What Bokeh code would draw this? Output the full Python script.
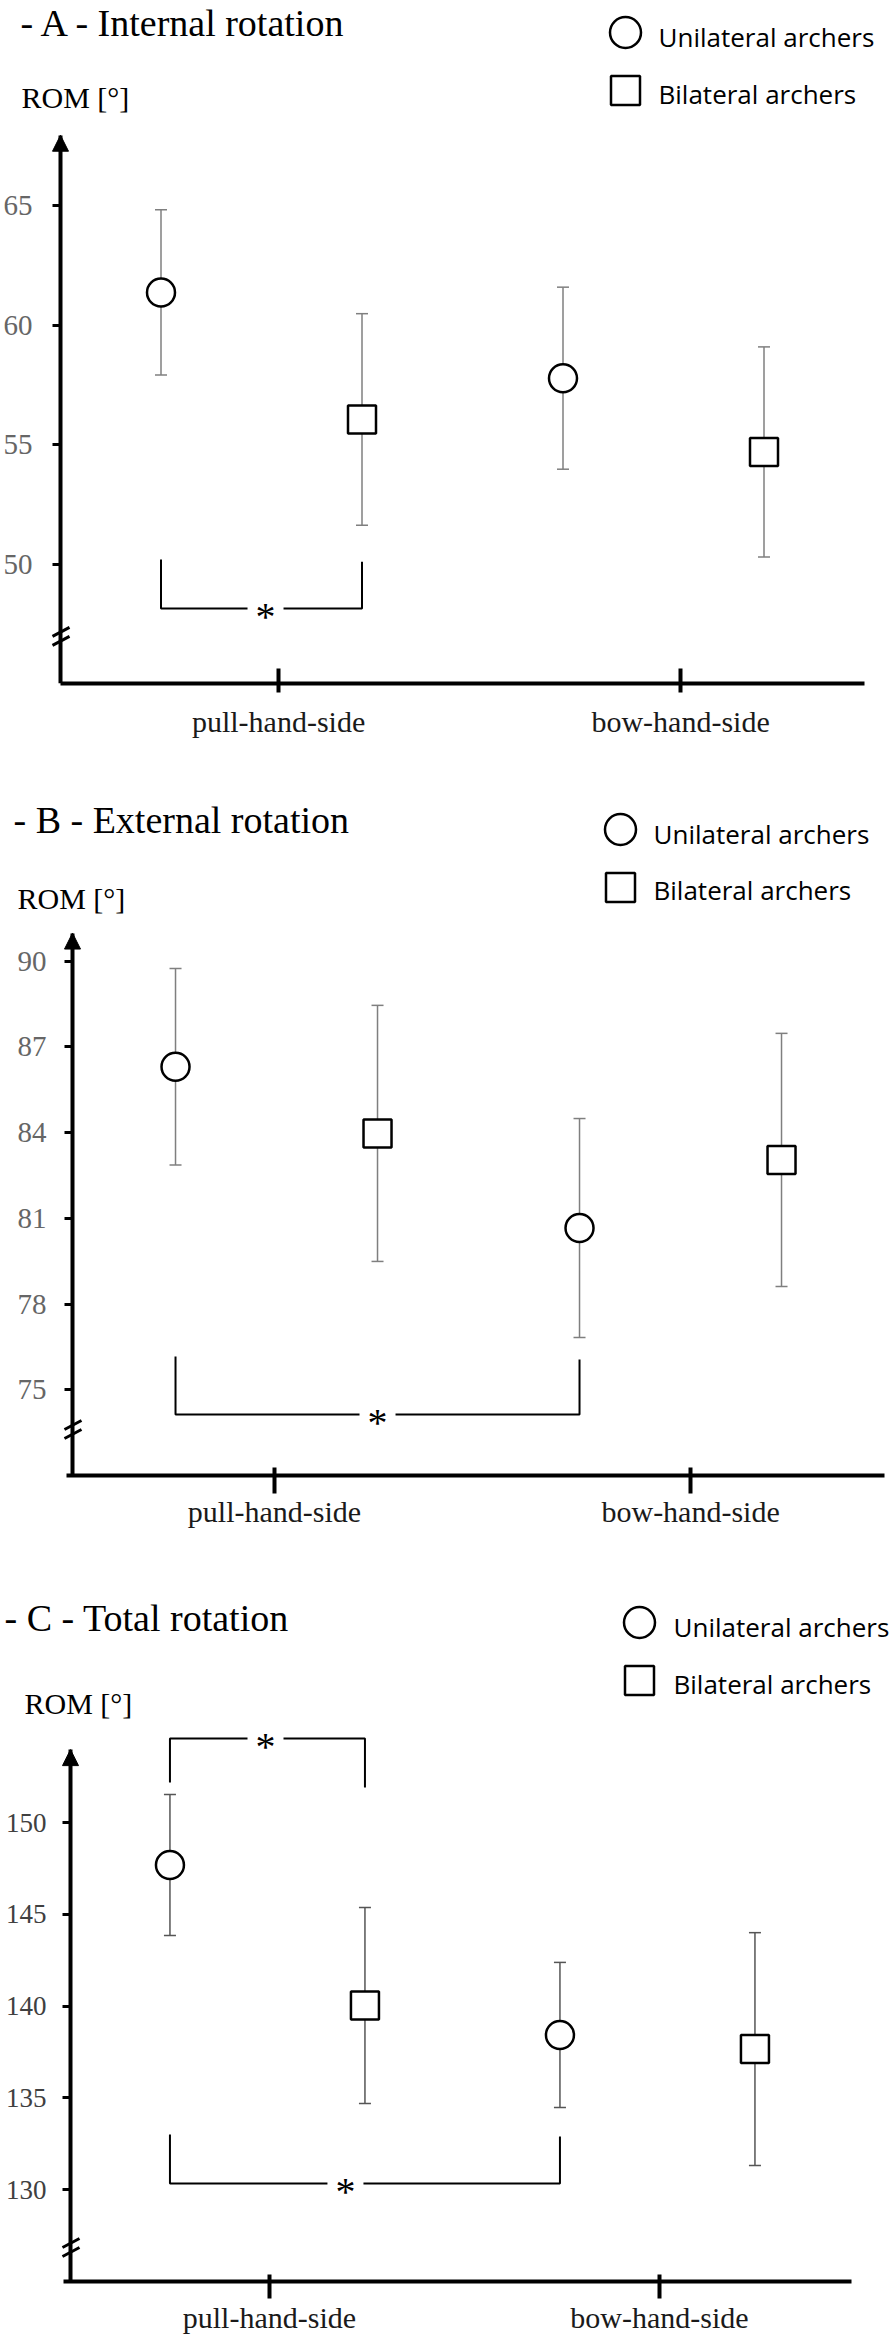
from bokeh.plotting import figure
from bokeh.models import (ColumnDataSource, Whisker, TeeHead, Label, Arrow, NormalHead,
                          FixedTicker, Range1d)
from bokeh.layouts import column
from bokeh.core.properties import value
from bokeh.embed import file_html
from bokeh.resources import INLINE

# ---------------- data ----------------
categories = ["pull-hand-side", "bow-hand-side"]
groups = ["Unilateral archers", "Bilateral archers"]
panel_titles = ["- A - Internal rotation", "- B - External rotation", "- C - Total rotation"]
y_axis_label = "ROM [°]"

# order: pull/unilateral, pull/bilateral, bow/unilateral, bow/bilateral
internal_mean = [61.37, 56.05, 57.78, 54.69]
internal_sd = [3.46, 4.43, 3.81, 4.40]
external_mean = [86.30, 83.97, 80.66, 83.04]
external_sd = [3.44, 4.48, 3.83, 4.43]
total_mean = [147.69, 140.03, 138.43, 137.66]
total_sd = [3.84, 5.34, 3.95, 6.34]

internal_ticks = [50, 55, 60, 65]
external_ticks = [75, 78, 81, 84, 87, 90]
total_ticks = [130, 135, 140, 145, 150]

# axis origin / top of arrow (data units)
internal_axis = (45.0, 67.95)
external_axis = (72.0, 90.98)
total_axis = (125.0, 153.97)

# significance brackets: (point a, point b, bar level, end level a, end level b, star position)
internal_sig = [(0, 1, 48.14, 50.19, 50.10, 1.52)]
external_sig = [(0, 2, 74.13, 76.16, 76.06, 2.00)]
total_sig = [(0, 1, 154.58, 152.18, 151.91, 1.49),
             (0, 2, 130.34, 133.00, 132.90, 1.90)]

# break-mark level on the y axis
internal_break = 46.97
external_break = 73.61
total_break = 126.85

SERIF = "Liberation Serif"
SANS = "Open Sans"
PAGE_W = 894
TITLE_SIZE, ROM_SIZE, LEG_SIZE = 38, 30, 26
BASE_FIX = 0.33  # rendered baseline sits this many em lower than requested

# ---------------- layout (page pixels) ----------------
layouts = [
    dict(top=0, height=760, ax=60, ay=683, ux=201.0, uy=23.89, x0=0.5, xend=4.5, xstart_px=60,
         xticks=[1.585, 3.585], tin=15, tout=9, xstand=12, ystand=20, ysize=29, ycolor="#666666",
         errc="#7f7f7f", title=(20, 35), rom=(21, 107), legm_x=625, legm_y=(32, 90),
         legt_x=658, legt_base=(45, 102)),
    dict(top=760, height=785, ax=72, ay=1475, ux=202.0, uy=28.58, x0=0.49, xend=4.51, xstart_px=66,
         xticks=[1.49, 3.55], tin=8, tout=18, xstand=1, ystand=18, ysize=29, ycolor="#666666",
         errc="#7f7f7f", title=(13, 832), rom=(17, 908), legm_x=620, legm_y=(829, 887),
         legt_x=653, legt_base=(842, 898)),
    dict(top=1545, height=798, ax=70, ay=2281, ux=195.0, uy=18.36, x0=0.49, xend=4.495, xstart_px=63,
         xticks=[1.51, 3.51], tin=7, tout=17, xstand=2, ystand=16, ysize=27, ycolor="#404040",
         errc="#555555", title=(4, 1630), rom=(24, 1713), legm_x=639, legm_y=(1622, 1680),
         legt_x=673, legt_base=(1635, 1692)),
]

positions = [1, 2, 3, 4]


def make_panel(title, means, sds, yticks, axis, sig, brk, L):
    ax, ay, ux, uy, x0 = L["ax"], L["ay"], L["ux"], L["uy"], L["x0"]
    y0, ytop = axis

    def X(px):
        return x0 + (px - ax) / ux

    def Y(py):
        return y0 + (ay - py) / uy

    fh = ay - L["top"]
    bottom = L["top"] + L["height"] - ay
    p = figure(frame_width=PAGE_W, frame_height=fh,
               min_border_left=0, min_border_right=0, min_border_top=0,
               min_border_bottom=bottom,
               x_range=Range1d(X(0), X(PAGE_W)), y_range=Range1d(y0, Y(L["top"])),
               output_backend="svg", toolbar_location=None, tools="")
    p.background_fill_color = "white"
    p.border_fill_color = "white"
    p.outline_line_color = None
    p.xgrid.visible = False
    p.ygrid.visible = False

    # x axis
    xa = p.xaxis[0]
    xa.ticker = FixedTicker(ticks=L["xticks"])
    xa.major_label_overrides = {L["xticks"][0]: categories[0], L["xticks"][1]: categories[1]}
    xa.bounds = (X(L["xstart_px"]), L["xend"])
    xa.axis_line_width = 4
    xa.axis_line_color = "black"
    xa.major_tick_line_width = 4
    xa.major_tick_line_color = "black"
    xa.major_tick_in = L["tin"]
    xa.major_tick_out = L["tout"]
    xa.minor_tick_line_color = None
    xa.major_label_standoff = L["xstand"]
    xa.major_label_text_font = SERIF
    xa.major_label_text_font_size = "30px"
    xa.major_label_text_color = "#1a1a1a"

    # y axis, pinned at the origin of the x scale
    ya = p.yaxis[0]
    ya.fixed_location = x0
    ya.ticker = FixedTicker(ticks=yticks)
    ya.bounds = (y0, ytop)
    ya.axis_line_width = 4
    ya.axis_line_color = "black"
    ya.major_tick_line_width = 3
    ya.major_tick_line_color = "black"
    ya.major_tick_in = 0
    ya.major_tick_out = 8
    ya.minor_tick_line_color = None
    ya.major_label_standoff = L["ystand"]
    ya.major_label_text_font = SERIF
    ya.major_label_text_font_size = "%dpx" % L["ysize"]
    ya.major_label_text_color = L["ycolor"]

    # arrow head on y axis
    p.add_layout(Arrow(end=NormalHead(size=16, fill_color="black", line_color="black", line_width=1),
                       x_start=x0, y_start=ytop - 14 / uy, x_end=x0, y_end=ytop,
                       line_width=4, line_color="black"))
    # axis break marks
    for off in (-4.5, 4.5):
        p.add_layout(Arrow(end=None, start=None,
                           x_start=X(ax - 8), y_start=brk - (off + 4.5) / uy,
                           x_end=X(ax + 9), y_end=brk - (off - 4.5) / uy,
                           line_width=3, line_color="black"))

    # error bars
    src = ColumnDataSource(dict(x=positions, y=means,
                                upper=[m + s for m, s in zip(means, sds)],
                                lower=[m - s for m, s in zip(means, sds)]))
    p.add_layout(Whisker(source=src, base="x", upper="upper", lower="lower",
                         line_color=L["errc"], line_width=1.5,
                         upper_head=TeeHead(size=12, line_color=L["errc"], line_width=1.5),
                         lower_head=TeeHead(size=12, line_color=L["errc"], line_width=1.5)))

    # markers
    p.scatter(positions[0::2], means[0::2], marker="circle", size=28, fill_color="white",
              line_color="black", line_width=2.5)
    p.scatter(positions[1::2], means[1::2], marker="square", size=28, fill_color="white",
              line_color="black", line_width=2.5)

    # significance brackets
    gap = 18 / ux
    bxs, bys, sx, sy = [], [], [], []
    for a, b, lvl, ea, eb, star in sig:
        xa_, xb_ = positions[a], positions[b]
        bxs += [[xa_, xa_, star - gap], [star + gap, xb_, xb_]]
        bys += [[ea, lvl, lvl], [lvl, lvl, eb]]
        sx.append(star)
        sy.append(lvl - 8 / uy)
    p.multi_line(bxs, bys, line_color="black", line_width=2)
    p.text(sx, sy, text=["*"] * len(sx), text_font=value(SERIF), text_font_size="40px",
           text_align="center", text_baseline="alphabetic", text_color="black")

    # legend
    mx = X(L["legm_x"])
    p.scatter([mx], [Y(L["legm_y"][0])], marker="circle", size=31, fill_color="white",
              line_color="black", line_width=2.5)
    p.scatter([mx], [Y(L["legm_y"][1])], marker="square", size=29, fill_color="white",
              line_color="black", line_width=2.5)
    lf = BASE_FIX * LEG_SIZE
    p.text([X(L["legt_x"])] * 2, [Y(L["legt_base"][0] - lf), Y(L["legt_base"][1] - lf)],
           text=groups, text_font=value(SANS), text_font_size="%dpx" % LEG_SIZE,
           text_align="left", text_baseline="alphabetic", text_color="black")

    # title and axis label
    p.add_layout(Label(x=X(L["title"][0]), y=Y(L["title"][1] - BASE_FIX * TITLE_SIZE), text=title,
                       text_font=SERIF, text_font_size="%dpx" % TITLE_SIZE, text_color="black",
                       text_align="left", text_baseline="alphabetic"))
    p.add_layout(Label(x=X(L["rom"][0]), y=Y(L["rom"][1] - BASE_FIX * ROM_SIZE), text=y_axis_label,
                       text_font=SERIF, text_font_size="%dpx" % ROM_SIZE, text_color="black",
                       text_align="left", text_baseline="alphabetic"))
    return p


pA = make_panel(panel_titles[0], internal_mean, internal_sd, internal_ticks, internal_axis,
                internal_sig, internal_break, layouts[0])
pB = make_panel(panel_titles[1], external_mean, external_sd, external_ticks, external_axis,
                external_sig, external_break, layouts[1])
pC = make_panel(panel_titles[2], total_mean, total_sd, total_ticks, total_axis,
                total_sig, total_break, layouts[2])

page = column(pA, pB, pC, spacing=0)
open("out.html", "w").write(file_html(page, INLINE))
